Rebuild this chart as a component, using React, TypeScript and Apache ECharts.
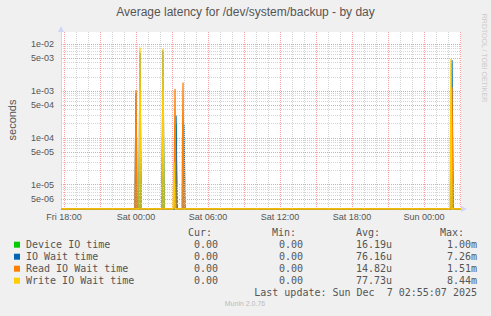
import { useEffect, useRef } from 'react';
import * as echarts from 'echarts';

const TITLE = 'Average latency for /dev/system/backup - by day';
const Y_NAME = 'seconds';
const WATERMARK = 'RRDTOOL / TOBI OETIKER';
const FOOTER = 'Munin 2.0.76';
const LAST_UPDATE = 'Last update: Sun Dec  7 02:55:07 2025';

// x = hours since Fri 00:00
const X_MIN = 17.75;
const X_MAX = 51.0833;
const STEP = 1 / 12; // 5 minutes
const X_TICK_HOURS = [18, 24, 30, 36, 42, 48];
const X_TICK_LABELS = ['Fri 18:00', 'Sat 00:00', 'Sat 06:00', 'Sat 12:00', 'Sat 18:00', 'Sun 00:00'];
const X_MAJOR_GRID_HOURS = [18, 21, 24, 27, 30, 33, 36, 39, 42, 45, 48, 51];
const X_MINOR_GRID_HOURS = [19, 20, 22, 23, 25, 26, 28, 29, 31, 32, 34, 35, 37, 38, 40, 41, 43, 44, 46, 47, 49, 50];

const Y_MIN = 3.03e-6;
const Y_MAX = 1.8e-2;
const Y_TICK_VALUES = [1e-2, 5e-3, 1e-3, 5e-4, 1e-4, 5e-5, 1e-5, 5e-6];
const Y_TICK_LABELS = ['1e-02', '5e-03', '1e-03', '5e-04', '1e-04', '5e-05', '1e-05', '5e-06'];
const Y_MINOR_VALUES = [
  9e-3, 8e-3, 7e-3, 6e-3, 4e-3, 3e-3, 2e-3,
  9e-4, 8e-4, 7e-4, 6e-4, 4e-4, 3e-4, 2e-4,
  9e-5, 8e-5, 7e-5, 6e-5, 4e-5, 3e-5, 2e-5,
  9e-6, 8e-6, 7e-6, 6e-6, 4e-6,
];

const SERIES_NAMES = ['Device IO time', 'IO Wait time', 'Read IO Wait time', 'Write IO Wait time'];
const SERIES_COLORS = ['#00cc00', '#0066b3', '#ff8000', '#ffcc00'];

// non-zero samples [hour, seconds]; everything else is 0
const DEVICE_SPIKES = [[24.333, 4.0e-4], [26.25, 1.0e-3], [27.333, 2.0e-4], [50.333, 6.0e-4]];
const IOWAIT_SPIKES = [[24.0, 9.0e-4], [24.333, 6.5e-3], [26.25, 7.26e-3], [27.333, 3.0e-4], [28.0, 2.0e-4], [50.333, 4.5e-3]];
const READ_SPIKES = [[24.0, 1.05e-3], [27.25, 1.1e-3], [27.917, 1.51e-3], [50.333, 1.2e-3]];
const WRITE_SPIKES = [[24.333, 8.44e-3], [26.25, 7.9e-3], [27.167, 3.0e-5], [50.25, 4.8e-3]];
const ALL_SPIKES = [DEVICE_SPIKES, IOWAIT_SPIKES, READ_SPIKES, WRITE_SPIKES];

const LEGEND_CUR = ['0.00', '0.00', '0.00', '0.00'];
const LEGEND_MIN = ['0.00', '0.00', '0.00', '0.00'];
const LEGEND_AVG = ['16.19u', '76.16u', '14.82u', '77.73u'];
const LEGEND_MAX = ['1.00m', '7.26m', '1.51m', '8.44m'];
const LEGEND_HEADERS = ['Cur:', 'Min:', 'Avg:', 'Max:'];

function buildLine(spikes: number[][]) {
  // zero is drawn at the floor of the log axis
  const pts: number[][] = [[X_MIN, Y_MIN]];
  spikes.forEach(([t, v]) => {
    pts.push([t - STEP, Y_MIN], [t, v], [t + STEP, Y_MIN]);
  });
  pts.push([X_MAX, Y_MIN]);
  return pts;
}

const SANS = 'Liberation Sans, Arial, sans-serif';
const MONO = 'DejaVu Sans Mono, monospace';
const TEXT_COLOR = '#555';
const GRAY_GRID = '#d4d4d4';
const RED_GRID = '#f2a0a0';
const AXIS_COLOR = '#cfd6f8';

const vLine = (h: number) => [{ coord: [h, Y_MIN] }, { coord: [h, Y_MAX] }];
const hLine = (v: number) => [{ coord: [X_MIN, v] }, { coord: [X_MAX, v] }];

function gridSeries(name: string, color: string, z: number, data: any[]) {
  return {
    type: 'line',
    name,
    z,
    silent: true,
    data: [[X_MIN, Y_MIN]],
    showSymbol: false,
    symbol: 'none',
    lineStyle: { opacity: 0 },
    markLine: {
      silent: true,
      symbol: 'none',
      animation: false,
      lineStyle: { color, type: [1, 1], width: 1 },
      label: { show: false },
      emphasis: { disabled: true },
      data,
    },
  };
}

export default function App() {
  const ref = useRef<HTMLDivElement>(null);
  useEffect(() => {
    if (!ref.current) return;
    const chart = echarts.init(ref.current, undefined, { renderer: 'svg' });

    const grayLines = [...X_MINOR_GRID_HOURS.map(vLine), ...Y_MINOR_VALUES.map(hLine)];
    const redLines = [
      ...X_MAJOR_GRID_HOURS.map(vLine),
      ...Y_TICK_VALUES.map((v, i) => {
        const l = hLine(v);
        return [
          {
            ...l[0],
            label: {
              show: true,
              position: 'start',
              distance: 7,
              formatter: Y_TICK_LABELS[i],
              color: TEXT_COLOR,
              fontSize: 9,
              fontFamily: SANS,
            },
          },
          l[1],
        ];
      }),
    ];

    const rowsY = [244.7, 256.7, 268.7, 280.7];
    const headerRight = [212, 296, 380, 464];
    const valueRight = [218, 303, 392, 477];
    const graphics: any[] = [
      {
        type: 'text', x: 12, y: 120, rotation: Math.PI / 2,
        style: { text: Y_NAME, align: 'center', verticalAlign: 'middle', fill: TEXT_COLOR, fontSize: 11, fontFamily: SANS },
      },
      {
        type: 'text', x: 484, y: 58, rotation: -Math.PI / 2,
        style: { text: WATERMARK, align: 'center', verticalAlign: 'middle', fill: '#cccccc', fontSize: 7, fontFamily: SANS },
      },
      {
        type: 'text', x: 245, y: 303,
        style: { text: FOOTER, align: 'center', verticalAlign: 'middle', fill: '#bbbbbb', fontSize: 7, fontFamily: SANS },
      },
      {
        type: 'text', x: 477, y: 292.7,
        style: { text: LAST_UPDATE, align: 'right', verticalAlign: 'middle', fill: TEXT_COLOR, fontSize: 10, fontFamily: MONO },
      },
    ];
    LEGEND_HEADERS.forEach((h, i) =>
      graphics.push({
        type: 'text', x: headerRight[i], y: 232.7,
        style: { text: h, align: 'right', verticalAlign: 'middle', fill: TEXT_COLOR, fontSize: 10, fontFamily: MONO },
      })
    );
    SERIES_NAMES.forEach((name, i) => {
      const y = rowsY[i];
      graphics.push({ type: 'rect', shape: { x: 14, y: y - 3, width: 6, height: 6 }, style: { fill: SERIES_COLORS[i] } });
      graphics.push({
        type: 'text', x: 26, y,
        style: { text: name, align: 'left', verticalAlign: 'middle', fill: TEXT_COLOR, fontSize: 10, fontFamily: MONO },
      });
      [LEGEND_CUR[i], LEGEND_MIN[i], LEGEND_AVG[i], LEGEND_MAX[i]].forEach((val, j) =>
        graphics.push({
          type: 'text', x: valueRight[j], y,
          style: { text: val, align: 'right', verticalAlign: 'middle', fill: TEXT_COLOR, fontSize: 10, fontFamily: MONO },
        })
      );
    });

    chart.setOption({
      animation: false,
      backgroundColor: '#f0f0f0',
      title: {
        text: TITLE,
        left: 'center',
        top: 6,
        padding: 0,
        textStyle: { color: TEXT_COLOR, fontSize: 12, fontWeight: 'normal', fontFamily: SANS },
      },
      grid: { left: 61, top: 32, width: 400, height: 177, show: true, backgroundColor: '#ffffff', borderWidth: 0 },
      xAxis: {
        type: 'value',
        min: X_MIN,
        max: X_MAX,
        splitLine: { show: false },
        axisTick: { show: false },
        axisLine: {
          show: true,
          onZero: false,
          lineStyle: { color: AXIS_COLOR, width: 1 },
          symbol: ['none', 'triangle'],
          symbolSize: [6, 6],
          symbolOffset: [0, 3],
        },
        axisLabel: {
          customValues: X_TICK_HOURS,
          formatter: (v: number) => {
            const i = X_TICK_HOURS.findIndex((h) => Math.abs(h - v) < 1e-6);
            return i >= 0 ? X_TICK_LABELS[i] : '';
          },
          color: TEXT_COLOR,
          fontSize: 9,
          fontFamily: SANS,
          margin: 3,
        },
      },
      yAxis: {
        type: 'log',
        logBase: 10,
        min: Y_MIN,
        max: Y_MAX,
        splitLine: { show: false },
        axisTick: { show: false },
        axisLabel: { show: false },
        axisLine: {
          show: true,
          lineStyle: { color: AXIS_COLOR, width: 1 },
          symbol: ['none', 'triangle'],
          symbolSize: [6, 6],
          symbolOffset: [0, 3],
        },
      },
      series: [
        gridSeries('minor grid', GRAY_GRID, 1, grayLines),
        gridSeries('major grid', RED_GRID, 1, redLines),
        ...SERIES_NAMES.map((name, i) => ({
          type: 'line',
          name,
          z: 3 + i,
          data: buildLine(ALL_SPIKES[i]),
          showSymbol: false,
          symbol: 'none',
          silent: true,
          lineStyle: { color: SERIES_COLORS[i], width: 1.3 },
          itemStyle: { color: SERIES_COLORS[i] },
        })),
      ],
      graphic: graphics,
    });
    return () => chart.dispose();
  }, []);
  return <div ref={ref} style={{ position: 'absolute', left: 0, top: 0, width: 491, height: 316 }} />;
}
